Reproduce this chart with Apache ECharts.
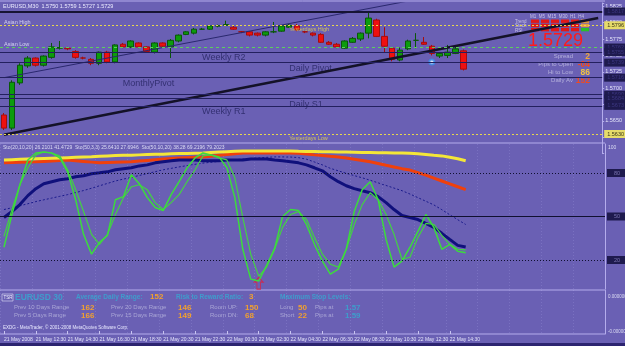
<!DOCTYPE html>
<html>
<head>
<meta charset="utf-8">
<script src="https://cdn.jsdelivr.net/npm/echarts@6/dist/echarts.min.js"></script>
<style>
html, body { margin: 0; padding: 0; background: #6a60b4; }
#main { width: 625px; height: 346px; }
</style>
</head>
<body>
<div id="main"></div>
<script>
// EURUSD M30 - price pane, stochastic pane, TSR pane
var tickLabels = ['21 May 2008', '21 May 12:30', '21 May 14:30', '21 May 16:30', '21 May 18:30',
    '21 May 20:30', '21 May 22:30', '22 May 00:30', '22 May 02:30', '22 May 04:30',
    '22 May 06:30', '22 May 08:30', '22 May 10:30', '22 May 12:30', '22 May 14:30'];

var openP = [1.5659, 1.5639, 1.5708, 1.5734, 1.5746, 1.5735, 1.5747, 1.5761, 1.5761, 1.5756,
    1.5746, 1.5744, 1.5738, 1.5755, 1.5740, 1.5767, 1.5763, 1.5769, 1.5763, 1.5755,
    1.5769, 1.5763, 1.5772, 1.5782, 1.5784, 1.5790, 1.5790, 1.5795, 1.5796, 1.5793,
    1.5786, 1.5786, 1.5784, 1.5781, 1.5786, 1.5787, 1.5793, 1.5795, 1.5786, 1.5784,
    1.5782, 1.5770, 1.5767, 1.5761, 1.5770, 1.5775, 1.5784, 1.5804, 1.5779, 1.5761,
    1.5743, 1.5760, 1.5773, 1.5770, 1.5764, 1.5749, 1.5750, 1.5753, 1.5757];
var closeP = [1.5639, 1.5709, 1.5735, 1.5746, 1.5735, 1.5749, 1.5763, 1.5762, 1.5760, 1.5747,
    1.5746, 1.5738, 1.5755, 1.5740, 1.5766, 1.5763, 1.5772, 1.5763, 1.5756, 1.5769,
    1.5764, 1.5773, 1.5781, 1.5786, 1.5790, 1.5790, 1.5795, 1.5795, 1.5797, 1.5790,
    1.5786, 1.5781, 1.5781, 1.5786, 1.5786, 1.5795, 1.5796, 1.5789, 1.5786, 1.5781,
    1.5770, 1.5767, 1.5763, 1.5772, 1.5776, 1.5784, 1.5807, 1.5779, 1.5764, 1.5744,
    1.5758, 1.5772, 1.5773, 1.5767, 1.5753, 1.5753, 1.5755, 1.5760, 1.5729];
var lowP = [1.5636, 1.5636, 1.5705, 1.5731, 1.5733, 1.5733, 1.5745, 1.5759, 1.5758, 1.5745,
    1.5744, 1.5735, 1.5735, 1.5738, 1.5738, 1.5761, 1.5761, 1.5761, 1.5755, 1.5753,
    1.5762, 1.5746, 1.5770, 1.5781, 1.5782, 1.5789, 1.5789, 1.5793, 1.5795, 1.5789,
    1.5784, 1.5779, 1.5779, 1.5779, 1.5784, 1.5786, 1.5792, 1.5787, 1.5784, 1.5779,
    1.5769, 1.5766, 1.5761, 1.5760, 1.5769, 1.5772, 1.5776, 1.5778, 1.5755, 1.5741,
    1.5741, 1.5758, 1.5761, 1.5766, 1.5750, 1.5746, 1.5746, 1.5752, 1.5727];
var highP = [1.5662, 1.5712, 1.5738, 1.5749, 1.5747, 1.5750, 1.5769, 1.5772, 1.5763, 1.5758,
    1.5748, 1.5746, 1.5756, 1.5757, 1.5767, 1.5769, 1.5773, 1.5770, 1.5764, 1.5770,
    1.5770, 1.5775, 1.5782, 1.5787, 1.5792, 1.5792, 1.5796, 1.5797, 1.5803, 1.5795,
    1.5787, 1.5787, 1.5785, 1.5787, 1.5801, 1.5796, 1.5798, 1.5798, 1.5787, 1.5785,
    1.5784, 1.5772, 1.5769, 1.5773, 1.5778, 1.5785, 1.5815, 1.5806, 1.5793, 1.5762,
    1.5762, 1.5774, 1.5784, 1.5778, 1.5766, 1.5755, 1.5766, 1.5763, 1.5759];

// trend lines: price at first bar and at last slot
var thickTrend = [1.5629, 1.5807];
var thinTrend = [1.5716, 1.5888];

// horizontal levels
var levelPrices = [1.5817, 1.5796, 1.5762, 1.5755, 1.5739, 1.5716, 1.5690, 1.5684, 1.5673, 1.5630];
var levelKinds = ['thick', 'yellow', 'green', 'dark', 'dark', 'dark', 'dark', 'dark', 'dark', 'yellow'];
var lastPrice = 1.5729;

var levelNames = ['Yesterdays High', 'Weekly R2', 'Daily Pivot', 'MonthlyPivot', 'Daily S1', 'Weekly R1', 'Yesterdays Low', 'Asian High', 'Asian Low'];
var levelNamePrices = [1.5796, 1.5755, 1.5739, 1.5716, 1.5684, 1.5673, 1.5630, 1.5797, 1.5764];
var levelNameBars = [36, 25, 36, 15, 36, 25, 36, 0, 0];

// stochastic pane
var stoFast = [28.8, 51.4, 71.9, 89.0, 93.8, 94.5, 93.8, 90.4, 80.8, 61.6,
    37.7, 24.0, 32.2, 37.0, 61.6, 63.7, 78.8, 72.6, 63.0, 56.2,
    54.1, 65.1, 74.0, 83.6, 90.4, 93.8, 92.5, 91.1, 83.6, 63.0,
    27.4, 6.8, 5.5, 16.4, 28.0, 50.0, 54.8, 54.1, 44.5, 30.8,
    19.2, 10.3, 13.7, 27.4, 53.4, 68.5, 74.0, 61.6, 34.2, 15.1,
    19.2, 28.8, 39.7, 51.4, 42.5, 27.4, 30.8, 26.0, 25.0];
var stoSlow = [36.3, 54.8, 71.9, 83.6, 92.5, 94.5, 93.8, 91.8, 82.2, 68.5,
    53.4, 37.7, 30.8, 37.7, 51.4, 63.0, 70.5, 71.9, 68.5, 59.6,
    54.8, 59.6, 65.1, 74.0, 82.2, 91.8, 92.5, 90.4, 89.0, 76.7,
    49.3, 24.0, 8.9, 15.1, 27.4, 42.5, 51.4, 53.4, 47.9, 35.6,
    24.0, 17.1, 15.1, 27.4, 44.5, 58.2, 66.4, 61.6, 51.4, 37.7,
    20.5, 21.9, 35.6, 45.2, 44.5, 37.0, 30.8, 27.4, 27.0];
var stoNavy = [49.3, 53.4, 58.2, 64.4, 69.2, 72.6, 74.0, 75.3, 76.0, 77.4,
    78.1, 79.5, 80.1, 80.8, 82.2, 82.9, 83.6, 84.9, 85.6, 87.0,
    87.7, 88.4, 89.0, 89.0, 89.0, 88.4, 88.4, 88.4, 89.0, 89.0,
    89.0, 89.7, 89.7, 89.7, 89.0, 88.4, 87.7, 87.0, 85.6, 83.6,
    81.5, 77.4, 74.0, 71.2, 69.2, 67.8, 66.4, 63.7, 59.6, 54.8,
    50.7, 49.3, 47.9, 45.2, 42.5, 38.4, 34.2, 30.1, 29.0];
var stoNavySig = [54.8, 56.0, 57.4, 58.8, 60.3, 61.5, 62.7, 63.9, 65.1, 66.5,
    67.9, 69.5, 71.2, 72.8, 74.5, 75.8, 77.0, 78.3, 79.6, 80.9,
    82.2, 83.2, 84.2, 85.1, 86.0, 86.8, 87.4, 88.0, 88.6, 89.2,
    89.6, 90.0, 90.4, 90.8, 91.1, 91.1, 91.0, 90.6, 89.5, 87.6,
    85.6, 83.2, 81.5, 79.8, 78.2, 76.7, 75.0, 73.2, 71.4, 69.6,
    67.8, 65.5, 63.0, 60.5, 58.0, 54.7, 51.2, 47.8, 44.5];
var stoYellow = [89.0, 89.2, 89.4, 89.6, 89.8, 90.0, 90.2, 90.4, 90.6, 90.8,
    91.0, 91.2, 91.5, 91.8, 92.0, 92.2, 92.3, 92.5, 92.7, 92.9,
    93.0, 93.2, 93.4, 93.5, 93.7, 93.8, 94.1, 94.4, 94.7, 95.0,
    95.2, 95.2, 95.2, 95.2, 95.2, 95.2, 95.2, 95.0, 94.9, 94.8,
    94.7, 94.6, 94.5, 94.4, 94.3, 94.2, 94.1, 94.0, 93.9, 93.8,
    93.8, 93.6, 93.2, 92.7, 92.2, 91.8, 90.8, 89.8, 88.4];
var stoOrange = [87.0, 87.2, 87.4, 87.5, 87.7, 88.0, 88.3, 88.6, 89.0, 88.5,
    88.0, 87.5, 87.0, 87.2, 87.4, 87.6, 87.7, 88.2, 88.7, 89.2,
    89.7, 90.0, 90.3, 90.6, 90.9, 91.1, 91.6, 92.2, 92.8, 93.3,
    93.8, 93.8, 93.8, 93.8, 93.8, 93.8, 93.8, 93.6, 93.1, 92.5,
    92.0, 91.5, 91.1, 90.3, 89.5, 88.6, 87.7, 86.5, 85.3, 84.2,
    83.0, 82.0, 80.3, 78.5, 76.5, 74.5, 72.5, 70.5, 68.5];
var stoLevels = [80, 50, 20];
var arrowPoint = [32, 4];
var circlePoint = [54, 1.5740];

// info panels
var boardLabels = ['Spread', 'Pips to Open', 'Hi to Low', 'Daily Av'];
var boardValues = ['2', '-04', '86', '152'];
var tsrValues = ['152', '3', '162', '166', '146', '149', '150', '68', '50', '22', '1.57', '1.59'];

var BAR_SLOTS = 76;
var categories = [];
for (var i = 0; i < BAR_SLOTS; i++) categories.push(String(i));

var candles = [];
for (var i = 0; i < openP.length; i++) {
    candles.push([openP[i], closeP[i], lowP[i], highP[i]]);
}

function ends(pair) {
    var d = [];
    for (var i = 0; i < BAR_SLOTS; i++) d.push(null);
    d[0] = pair[0];
    d[BAR_SLOTS - 1] = pair[1];
    return d;
}

var smallFont = "'Liberation Sans', sans-serif";
var plainFont = "'Liberation Sans', sans-serif";

var boxDark = { backgroundColor: '#1e1a4e', color: '#3c3680' };
var boxYellow = { backgroundColor: '#e6dc6a', color: '#3a3418' };

var levelLines = levelPrices.map(function (p, k) {
    var kind = levelKinds[k];
    var ls = { color: '#23205e', width: 1, type: 'solid' };
    if (kind === 'thick') ls = { color: '#161434', width: 2, type: 'solid' };
    if (kind === 'yellow') ls = { color: '#e8d84a', width: 1, type: [2, 2] };
    if (kind === 'green') ls = { color: '#5cd05c', width: 1, type: [3, 3] };
    var box = kind === 'yellow' ? boxYellow : boxDark;
    return {
        yAxis: p,
        lineStyle: ls,
        label: {
            show: true, position: 'end', distance: 2,
            formatter: p.toFixed(4), fontSize: 5.5, fontFamily: smallFont,
            padding: [1, 3], backgroundColor: box.backgroundColor, color: box.color
        }
    };
});
levelLines.push({
    yAxis: lastPrice,
    lineStyle: { opacity: 0 },
    label: {
        show: true, position: 'end', distance: 2, formatter: lastPrice.toFixed(4),
        fontSize: 5.5, fontFamily: smallFont, padding: [1, 3],
        backgroundColor: '#f4f4ff', color: '#303060'
    }
});

var nameData = levelNames.map(function (n, k) {
    var yellow = n.indexOf('Yesterdays') === 0;
    var asian = n.indexOf('Asian') === 0;
    return {
        value: [levelNameBars[k], levelNamePrices[k]],
        label: {
            formatter: n,
            color: yellow ? '#e8d84a' : (asian ? '#e8e8ff' : '#262462'),
            fontSize: (yellow || asian) ? 5.5 : 9,
            fontFamily: plainFont,
            verticalAlign: asian ? 'bottom' : 'top'
        }
    };
});

var stoLevelLines = stoLevels.map(function (v) {
    return {
        yAxis: v,
        lineStyle: { color: '#101030', width: 1, type: v === 50 ? 'solid' : [1, 2] },
        label: {
            show: true, position: 'end', distance: 2, formatter: '  ' + v,
            fontSize: 5.5, fontFamily: smallFont, padding: [1, 4],
            backgroundColor: '#1e1a4e', color: '#7a74b0', width: 14
        }
    };
});

function stoLine(data, color, width, type) {
    return {
        type: 'line', xAxisIndex: 1, yAxisIndex: 1, data: data,
        showSymbol: false, symbol: 'none',
        lineStyle: { color: color, width: width, type: type || 'solid' }
    };
}

function txt(x, y, s, fill, size, weight) {
    return {
        type: 'text', x: x, y: y, silent: true,
        style: {
            text: s, fill: fill, fontSize: size || 6, fontFamily: plainFont,
            fontWeight: weight || 'normal', verticalAlign: 'top', textVerticalAlign: 'top'
        }
    };
}
function hline(y, color) {
    return { type: 'line', silent: true, shape: { x1: 0, y1: y, x2: 605, y2: y }, style: { stroke: color, lineWidth: 1 } };
}

var cellColors = [
    ['#e01818', '#e01818', '#e01818', '#e01818', '#e01818', '#e89a3a'],
    ['#e01818', '#e01818', '#e01818', '#e01818', '#e01818', '#e8a040'],
    ['#e01818', '#e01818', '#e01818', '#e01818', '#e01818', '#28c028']
];
var teal = '#3f9ccc', orange = '#f0a030', grey = '#aaa6d6';
var graphics = [
    hline(1, '#b4acec'), hline(143, '#b4acec'), hline(290, '#b4acec'), hline(334, '#b4acec'),
    { type: 'rect', silent: true, shape: { x: 0, y: 343, width: 625, height: 3 }, style: { fill: '#2c2470' } },
    txt(3, 3, 'EURUSD,M30  1.5750 1.5759 1.5727 1.5729', '#ececff', 5.5),
    txt(3, 145.5, 'Sto(20,10,20) 26.2101 41.4729  Sto(50,3,3) 25.6410 27.6946  Sto(50,10,20) 38.28 69.2196 79.2023', '#dcdcf4', 5),
    txt(608, 145, '100', '#dcdcf4', 5),
    txt(530, 14, 'M1  M5  M15  M30  H1  H4', '#c8c4e8', 4.5),
    txt(515, 19, 'Trend', '#c8c4e8', 4.5),
    txt(515, 23.5, 'Stoch', '#c8c4e8', 4.5),
    txt(515, 28, 'RSI', '#c8c4e8', 4.5),
    txt(528, 32, lastPrice.toFixed(4), '#ff1a1a', 18),
    // TSR pane
    { type: 'rect', silent: true, shape: { x: 2, y: 294, width: 11, height: 7 }, style: { fill: 'none', stroke: '#e0e0f8', lineWidth: 0.6 } },
    txt(3.5, 295.5, 'TSR', '#f0f0ff', 4.5),
    txt(15, 293, 'EURUSD 30', teal, 8.5, 'bold'),
    txt(76, 294, 'Average Daily Range:', teal, 6.5, 'bold'),
    txt(150, 293, tsrValues[0], orange, 8, 'bold'),
    txt(176, 294, 'Risk to Reward Ratio:', teal, 6.5, 'bold'),
    txt(249, 293, tsrValues[1], orange, 8, 'bold'),
    txt(280, 294, 'Maximum Stop Levels:', teal, 6.5, 'bold'),
    txt(14, 304.5, 'Prev 10 Days Range', grey, 6),
    txt(14, 312.5, 'Prev 5 Days Range', grey, 6),
    txt(81, 303.5, tsrValues[2], orange, 8, 'bold'),
    txt(81, 311.5, tsrValues[3], orange, 8, 'bold'),
    txt(111, 304.5, 'Prev 20 Days Range', grey, 6),
    txt(111, 312.5, 'Prev 15 Days Range', grey, 6),
    txt(178, 303.5, tsrValues[4], orange, 8, 'bold'),
    txt(178, 311.5, tsrValues[5], orange, 8, 'bold'),
    txt(210, 304.5, 'Room UP:', grey, 6),
    txt(210, 312.5, 'Room DN:', grey, 6),
    txt(245, 303.5, tsrValues[6], orange, 8, 'bold'),
    txt(245, 311.5, tsrValues[7], orange, 8, 'bold'),
    txt(280, 304.5, 'Long', grey, 6),
    txt(280, 312.5, 'Short', grey, 6),
    txt(298, 303.5, tsrValues[8], orange, 8, 'bold'),
    txt(298, 311.5, tsrValues[9], orange, 8, 'bold'),
    txt(315, 304.5, 'Pips at', grey, 6),
    txt(315, 312.5, 'Pips at', grey, 6),
    txt(345, 303.5, tsrValues[10], teal, 8, 'bold'),
    txt(345, 311.5, tsrValues[11], teal, 8, 'bold'),
    txt(3, 325, 'EXDG - MetaTrader, \u00a9 2001-2008 MetaQuotes Software Corp.', '#e8e8ff', 4.5),
    txt(608, 294, '0.000000', '#dcdcf4', 4.5),
    txt(608, 329, '-0.000000', '#dcdcf4', 4.5)
];
cellColors.forEach(function (row, r) {
    row.forEach(function (c, k) {
        graphics.push({ type: 'rect', silent: true, shape: { x: 531 + k * 10, y: 19.5 + r * 4.2, width: 8, height: 3.4 }, style: { fill: c } });
    });
});
boardLabels.forEach(function (l, k) {
    var y = 53 + k * 8;
    graphics.push({
        type: 'text', x: 573, y: y, silent: true,
        style: { text: l, fill: '#b4b0dc', fontSize: 6, fontFamily: plainFont, textAlign: 'right', align: 'right', verticalAlign: 'top', textVerticalAlign: 'top' }
    });
    graphics.push({
        type: 'text', x: 590, y: y - 1, silent: true,
        style: { text: boardValues[k], fill: ['#f0a838', '#f04a20', '#f0c440', '#f04a20'][k], fontSize: 8.5, fontWeight: 'bold', fontFamily: plainFont, textAlign: 'right', align: 'right', verticalAlign: 'top', textVerticalAlign: 'top' }
    });
});

var labelEvery = function (i) { return i % 4 === 0 && i / 4 < tickLabels.length; };
var gridBox = { left: -2, width: 607 };
var option = {
    backgroundColor: '#6a60b4',
    animation: false,
    grid: [
        { left: gridBox.left, width: gridBox.width, top: 3, height: 150.65 },
        { left: gridBox.left, width: gridBox.width, top: 144, height: 145 },
        { left: gridBox.left, width: gridBox.width, top: 290, height: 44 }
    ],
    xAxis: [
        { type: 'category', gridIndex: 0, data: categories, show: false },
        {
            type: 'category', gridIndex: 1, data: categories,
            axisLine: { show: false }, axisTick: { show: false }, axisLabel: { show: false },
            splitLine: { show: true, interval: function (i) { return i % 4 === 0; }, lineStyle: { color: 'rgba(200,196,255,0.18)', type: [1, 2] } }
        },
        {
            type: 'category', gridIndex: 2, data: categories,
            axisLine: { show: false },
            axisTick: { show: true, alignWithLabel: true, interval: labelEvery, length: 3, inside: true, lineStyle: { color: '#c8c4f0' } },
            axisLabel: {
                interval: labelEvery, hideOverlap: false,
                formatter: function (v, i) { return tickLabels[i / 4] || ''; },
                align: 'left', fontSize: 5, fontFamily: smallFont, color: '#e4e4fa', margin: 3
            },
            splitLine: { show: true, interval: function (i) { return i % 4 === 0; }, lineStyle: { color: 'rgba(200,196,255,0.18)', type: [1, 2] } }
        }
    ],
    yAxis: [
        {
            type: 'value', gridIndex: 0, position: 'right', min: 1.5600, max: 1.5830, interval: 0.0025,
            axisLine: { show: true, lineStyle: { color: '#b4acec' } },
            axisTick: { show: true, length: 2, lineStyle: { color: '#b4acec' } },
            splitLine: { show: false },
            axisLabel: {
                fontSize: 5.5, fontFamily: smallFont, color: '#e4e4fa', margin: 3,
                formatter: function (v) {
                    var k = v * 400;
                    if (v < 1.5640 || Math.abs(k - Math.round(k)) > 1e-6) return '';
                    return v.toFixed(4);
                }
            }
        },
        {
            type: 'value', gridIndex: 1, position: 'right', min: 0, max: 100,
            axisLine: { show: true, lineStyle: { color: '#b4acec' } },
            axisTick: { show: false }, axisLabel: { show: false }, splitLine: { show: false }
        },
        {
            type: 'value', gridIndex: 2, position: 'right', min: 0, max: 1,
            axisLine: { show: true, lineStyle: { color: '#b4acec' } },
            axisTick: { show: false }, axisLabel: { show: false }, splitLine: { show: false }
        }
    ],
    graphic: graphics,
    series: [
        {
            type: 'candlestick', xAxisIndex: 0, yAxisIndex: 0, data: candles, barWidth: 6,
            itemStyle: { color: '#0c9c0c', color0: '#ee1010', borderColor: '#0a560a', borderColor0: '#a80c0c', borderWidth: 1 },
            markLine: { silent: true, symbol: ['none', 'none'], precision: 4, data: levelLines }
        },
        {
            type: 'line', xAxisIndex: 0, yAxisIndex: 0, data: ends(thinTrend), connectNulls: true,
            showSymbol: false, symbol: 'none', lineStyle: { color: '#2a286e', width: 1 }
        },
        {
            type: 'line', xAxisIndex: 0, yAxisIndex: 0, data: ends(thickTrend), connectNulls: true,
            showSymbol: false, symbol: 'none', lineStyle: { color: '#141228', width: 2.5 }
        },
        {
            type: 'scatter', xAxisIndex: 0, yAxisIndex: 0, data: nameData, symbolSize: 0,
            label: { show: true, position: [0, 1], align: 'left' }
        },
        {
            type: 'scatter', xAxisIndex: 0, yAxisIndex: 0, data: [circlePoint], symbol: 'emptyCircle', symbolSize: 5,
            itemStyle: { color: '#3a8ce8', borderColor: '#3a8ce8', borderWidth: 1 }
        },
        (function () {
            var s = stoLine(stoOrange, '#f0400c', 3);
            s.markLine = { silent: true, symbol: ['none', 'none'], data: stoLevelLines };
            return s;
        })(),
        stoLine(stoYellow, '#f4e638', 3),
        stoLine(stoNavySig, '#1a1a8c', 1, [2, 2]),
        stoLine(stoNavy, '#10107c', 3),
        stoLine(stoSlow, '#44d044', 1.2),
        stoLine(stoFast, '#3cdc3c', 1.5),
        {
            type: 'scatter', xAxisIndex: 1, yAxisIndex: 1, data: [arrowPoint],
            symbol: 'path://M5,0 L10,5 L7,5 L7,12 L3,12 L3,5 L0,5 Z', symbolSize: [9, 12],
            itemStyle: { color: 'rgba(0,0,0,0)', borderColor: '#e0203c', borderWidth: 1 }
        }
    ]
};

var chart = echarts.init(document.getElementById('main'));
chart.setOption(option);
</script>
</body>
</html>
